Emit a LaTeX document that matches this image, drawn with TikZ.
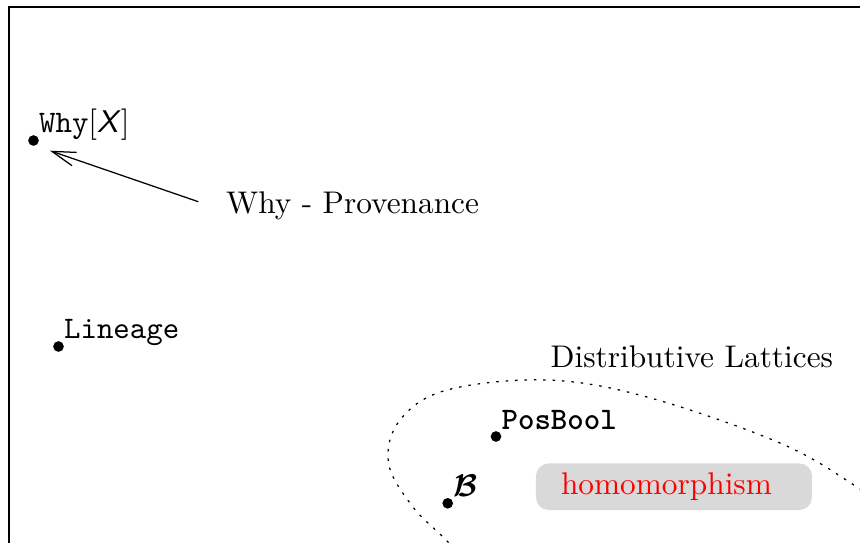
\documentclass[tikz,border=0pt]{standalone}
\usepackage{amsmath}
\usetikzlibrary{arrows.meta,calc}

\begin{document}
\begin{tikzpicture}[x=0.3192pt, y=-0.3192pt,
  semiring/.style={circle, fill=black, inner sep=0pt, minimum size=3.4pt},
  semilabel/.style={anchor=base west, inner sep=0pt},
  plaintext/.style={anchor=base west, inner sep=0pt},
  pointer/.style={line width=0.4pt, -{Straight Barb[length=7.5pt,width=4.5pt]}},
  classline/.style={line width=0.4pt, dash pattern=on 0.8pt off 2.2pt},
  mapbox/.style={fill=black!15, text=red, rounded corners=4.1pt,
    text width=72.1pt, align=left, inner xsep=8pt, inner ysep=0pt,
    minimum height=14.9pt}]
\useasboundingbox (0,0) rectangle (860,543);
\clip (0,0) rectangle (860,543);

% outer frame (runs past the visible area)
\draw[line width=0.64pt] (9,6.5) rectangle (920,620);

% semirings
\node[semiring] (why) at (33.5,140.5) {};
\node[semilabel] (whylbl) at ($(why)+(5,-8.5)$) {\texttt{Why}$[$\textsf{\itshape X}$]$};

\node[semiring] (lin) at (58.5,346.5) {};
\node[semilabel] (linlbl) at ($(lin)+(5,-8.3)$) {\texttt{Lineage}};

\node[semiring] (pos) at (496,436.5) {};
\node[semilabel] (poslbl) at ($(pos)+(5,-7.5)$) {\texttt{\textbf{PosBool}}};

\node[semiring] (bool) at (447.7,503.3) {};
\node[semilabel] (boollbl) at ($(bool)+(5,-6.8)$) {$\boldsymbol{\mathcal{B}}$};

% annotation for Why[X]
\node[plaintext] (prov) at (225.5,213.5) {Why - Provenance};
\coordinate (provtail) at (198.3,201.7);
\coordinate (whytip) at (50,150.7);
\draw[pointer] (provtail) -- (whytip);

% class of distributive lattices
\node[plaintext] (dl) at (550,367) {Distributive Lattices};
\draw[classline] plot[smooth, tension=0.6] coordinates {
  (472,572) (448,542) (413,507) (388.5,463) (400,420) (447,390)
  (547,380) (647,397) (780,443) (857,487) (905,522)};

% homomorphism tag
\node[mapbox] (hom) at (674,486.7) {homomorphism};
\end{tikzpicture}
\end{document}
